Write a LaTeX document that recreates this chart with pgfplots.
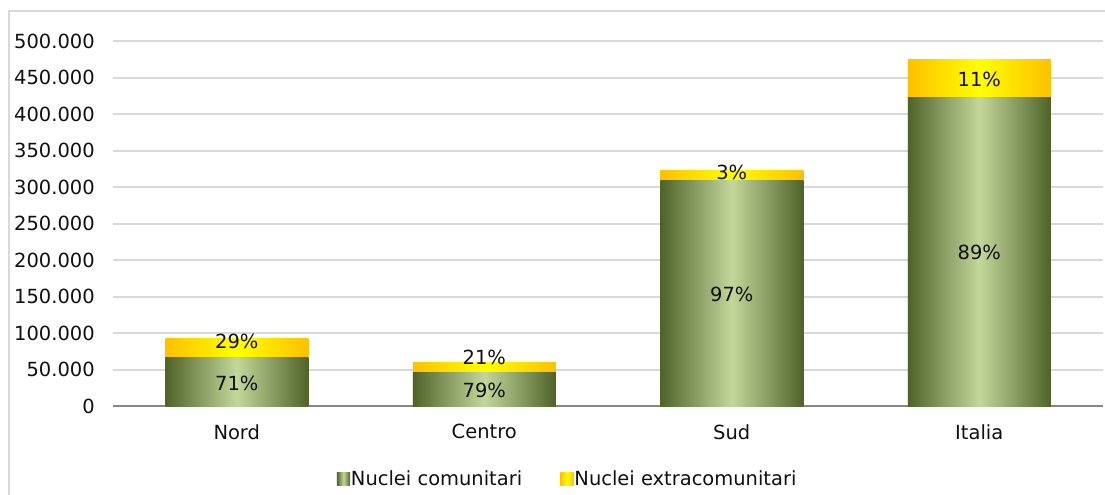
\documentclass[border=0pt]{standalone}
\usepackage{pgfplots}
\pgfplotsset{compat=1.18}
\usepackage{fontspec}
\setmainfont{DejaVu Sans}
\definecolor{gdark}{HTML}{4F6228}
\definecolor{glight}{HTML}{C4D79B}
\definecolor{ydark}{HTML}{FFC000}
\definecolor{ylight}{HTML}{FFFF00}
\definecolor{gridc}{HTML}{D9D9D9}
\definecolor{axc}{HTML}{868686}
\definecolor{txt}{HTML}{101010}

\newcommand{\chartfont}{\fontsize{14.6}{17}\selectfont}

\pgfplotsset{
  gbar/.style={ybar, bar width=107.25pt, bar shift=0pt, draw=none,
    left color=gdark, right color=gdark, middle color=glight, forget plot},
  ybarc/.style={ybar, bar width=107.25pt, bar shift=0pt, draw=none,
    left color=ydark, right color=ydark, middle color=ylight, forget plot},
}

\begin{document}
\begin{tikzpicture}
\path[use as bounding box] (0,0) rectangle (828.75pt,370.5pt);
\draw[gridc, line width=1.2pt] (6.75pt,-1pt) -- (6.75pt,362.25pt) -- (830pt,362.25pt);
\begin{axis}[
  at={(84.75pt,66pt)}, anchor=south west,
  scale only axis, width=742.5pt, height=273.75pt,
  xmin=-0.5, xmax=3.5, ymin=0, ymax=500000,
  xtick={0,1,2,3}, xticklabels={Nord,Centro,Sud,Italia},
  ytick={0,50000,100000,150000,200000,250000,300000,350000,400000,450000,500000},
  scaled y ticks=false,
  /pgf/number format/assume math mode=true,
  /pgf/number format/.cd, fixed, precision=0, 1000 sep={.},
  /pgfplots/.cd,
  ymajorgrids, major grid style={gridc, line width=1.5pt},
  axis x line*=bottom, axis y line*=left,
  x axis line style={axc, line width=1.5pt},
  y axis line style={draw=none},
  major tick length=0pt,
  tick style={draw=none},
  ticklabel style={font=\chartfont, text=txt},
  yticklabel style={anchor=east, inner sep=0pt, xshift=-13.5pt},
  xticklabel style={anchor=north, inner sep=0pt, yshift=-13.5pt},
  legend image code/.code={\path[#1, draw=none] (0pt,-4.8pt) rectangle (10pt,4.8pt);},
  legend style={at={(0.4586,-0.2)}, anchor=center, draw=none, fill=none,
    legend columns=2, font=\chartfont, text=txt,
    nodes={inner sep=0.6pt},
    /tikz/every even column/.append style={column sep=28pt}},
]
\addlegendimage{left color=gdark, right color=gdark, middle color=glight}
\addlegendentry{Nuclei comunitari}
\addlegendimage{left color=ydark, right color=ydark, middle color=ylight}
\addlegendentry{Nuclei extracomunitari}

% totals (yellow, comunitari + extracomunitari)
\addplot[ybarc] coordinates {(0,93000)};
\addplot[ybarc] coordinates {(1,59000)};
\addplot[ybarc] coordinates {(2,323000)};
\addplot[ybarc] coordinates {(3,475000)};
% comunitari (green)
\addplot[gbar] coordinates {(0,66000)};
\addplot[gbar] coordinates {(1,46000)};
\addplot[gbar] coordinates {(2,309000)};
\addplot[gbar] coordinates {(3,423000)};

\addplot[draw=none, mark=none, forget plot, nodes near coords,
  point meta=explicit symbolic,
  every node near coord/.append style={anchor=center, inner sep=0pt,
    font=\chartfont, text=txt}]
  coordinates {
    (0,31500) [71\%]
    (0,89000) [29\%]
    (1,22000) [79\%]
    (1,67000) [21\%]
    (2,153000) [97\%]
    (2,320500) [3\%]
    (3,211000) [89\%]
    (3,448000) [11\%]
  };
\end{axis}
\end{tikzpicture}
\end{document}
